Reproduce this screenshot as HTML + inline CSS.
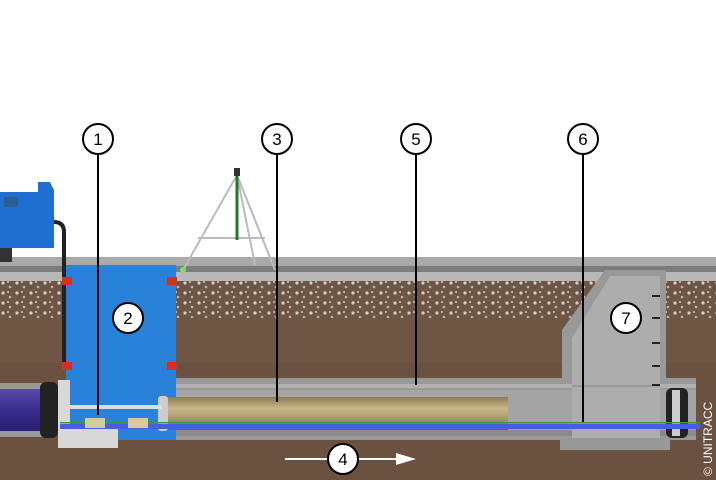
<!DOCTYPE html>
<html><head><meta charset="utf-8"><style>html,body{margin:0;padding:0;background:#fff}svg{display:block}</style></head><body>
<svg width="716" height="480" viewBox="0 0 716 480" xmlns="http://www.w3.org/2000/svg" font-family="Liberation Sans, sans-serif">
<defs>
<pattern id="grav" width="14" height="10" patternUnits="userSpaceOnUse">
<rect width="14" height="10" fill="#6e5646"/>
<circle cx="3" cy="3" r="1.6" fill="#d8cfc2"/><circle cx="10" cy="7" r="1.3" fill="#bfb2a2"/><circle cx="8" cy="2" r="0.9" fill="#efe8de"/>
</pattern>
<linearGradient id="liner" x1="0" y1="0" x2="0" y2="1">
<stop offset="0" stop-color="#8a7c52"/><stop offset="0.35" stop-color="#c9b98a"/><stop offset="0.7" stop-color="#a39468"/><stop offset="1" stop-color="#6f6440"/></linearGradient>
<linearGradient id="purp" x1="0" y1="0" x2="0" y2="1"><stop offset="0" stop-color="#5a4aa8"/><stop offset="0.5" stop-color="#3a2c90"/><stop offset="1" stop-color="#2a1e70"/></linearGradient>
</defs>
<!-- soil -->
<rect x="0" y="280" width="716" height="200" fill="#6a5140"/>
<rect x="0" y="280" width="716" height="38" fill="url(#grav)"/>
<rect x="0" y="318" width="716" height="45" fill="#735846" opacity="0.6"/>
<!-- pavement -->
<rect x="0" y="257" width="716" height="9" fill="#a9a9a9"/>
<rect x="0" y="266" width="716" height="6" fill="#7c7c7c"/>
<rect x="0" y="272" width="716" height="9" fill="#b8b8b8"/>
<!-- truck -->
<path d="M0 192 L38 192 L38 182 L50 182 L54 190 L54 248 L0 248 Z" fill="#1f6fd0"/>
<rect x="4" y="197" width="14" height="10" rx="2" fill="#2b5f94"/>
<rect x="0" y="248" width="12" height="14" fill="#333"/>
<path d="M54 222 Q64 222 64 232 L64 370" stroke="#222" stroke-width="4" fill="none"/>
<!-- tripod -->
<g stroke="#bbb" stroke-width="2" fill="none">
<line x1="237" y1="175" x2="183" y2="270"/><line x1="237" y1="175" x2="275" y2="270"/><line x1="237" y1="175" x2="255" y2="265"/>
<line x1="198" y1="238" x2="265" y2="238"/></g>
<line x1="237" y1="175" x2="237" y2="240" stroke="#1d7a2a" stroke-width="3"/>
<rect x="234" y="168" width="6" height="8" fill="#333"/>
<circle cx="183" cy="270" r="3" fill="#7d7"/>
<!-- blue shaft -->
<rect x="66" y="265" width="110" height="175" fill="#2a82d8"/>
<rect x="62" y="277" width="10" height="8" fill="#d83020"/><rect x="62" y="362" width="10" height="8" fill="#d83020"/>
<rect x="167" y="277" width="10" height="8" fill="#d83020"/><rect x="167" y="362" width="10" height="8" fill="#d83020"/>
<!-- left pipe -->
<rect x="0" y="383" width="50" height="54" fill="#999"/>
<rect x="0" y="389" width="48" height="42" fill="url(#purp)"/>
<rect x="40" y="382" width="18" height="56" rx="6" fill="#222"/>
<path d="M58 380 L70 380 L70 425 L118 425 L118 448 L58 448 Z" fill="#d8d8d8"/>
<!-- host pipe -->
<rect x="176" y="378" width="520" height="62" fill="#999"/>
<rect x="176" y="384" width="520" height="4" fill="#b0b0b0"/>
<rect x="176" y="390" width="520" height="40" fill="#a4a4a4"/>
<rect x="176" y="430" width="520" height="6" fill="#8a8a8a"/>
<!-- manhole -->
<path d="M605 270 L666 270 L666 384 L562 384 L562 330 Z" fill="#999"/>
<path d="M610 276 L660 276 L660 440 L572 440 L572 338 Z" fill="#adadad"/>
<rect x="560" y="438" width="110" height="12" fill="#999"/>
<rect x="572" y="385" width="88" height="2" fill="#999"/>
<g stroke="#222" stroke-width="2"><line x1="652" y1="296" x2="660" y2="296"/><line x1="652" y1="318" x2="660" y2="318"/><line x1="652" y1="343" x2="660" y2="343"/><line x1="652" y1="366" x2="660" y2="366"/><line x1="652" y1="385" x2="660" y2="385"/></g>
<rect x="666" y="388" width="22" height="50" rx="6" fill="#222"/>
<rect x="672" y="390" width="8" height="46" fill="#ccc"/>
<!-- liner -->
<rect x="160" y="397" width="348" height="33" fill="url(#liner)"/>
<rect x="158" y="396" width="10" height="35" rx="3" fill="#ccc"/>
<!-- rod and blue line -->
<rect x="66" y="405" width="96" height="4" fill="#ddd"/>
<rect x="60" y="424" width="640" height="5" fill="#4a5ce0"/>
<rect x="60" y="422" width="640" height="1.5" fill="#3a9a3a"/>
<rect x="85" y="418" width="20" height="10" fill="#d9c9a0"/><rect x="128" y="418" width="20" height="10" fill="#d9c9a0"/>
<!-- callout lines -->
<g stroke="#000" stroke-width="2">
<line x1="98" y1="154" x2="98" y2="415"/>
<line x1="277" y1="154" x2="277" y2="402"/>
<line x1="416" y1="154" x2="416" y2="385"/>
<line x1="583" y1="154" x2="583" y2="422"/>
</g>
<!-- arrow -->
<line x1="285" y1="459" x2="328" y2="459" stroke="#fff" stroke-width="2"/>
<line x1="358" y1="459" x2="400" y2="459" stroke="#fff" stroke-width="2"/>
<path d="M396 453 L416 459 L396 465 Z" fill="#fff"/>
<!-- circles -->
<g fill="#fff" stroke="#000" stroke-width="2" font-size="17" text-anchor="middle">
<circle cx="98" cy="139" r="15"/><circle cx="277" cy="139" r="15"/><circle cx="416" cy="139" r="15"/><circle cx="583" cy="139" r="15"/>
<circle cx="128" cy="318" r="15"/><circle cx="626" cy="318" r="15"/><circle cx="343" cy="459" r="15"/>
</g>
<g font-size="17" text-anchor="middle" fill="#000">
<text x="98" y="145">1</text><text x="277" y="145">3</text><text x="416" y="145">5</text><text x="583" y="145">6</text>
<text x="128" y="324">2</text><text x="626" y="324">7</text><text x="343" y="465">4</text>
</g>
<text transform="translate(712,476) rotate(-90)" font-size="12" fill="#fff">© UNITRACC</text>
</svg>
</body></html>
